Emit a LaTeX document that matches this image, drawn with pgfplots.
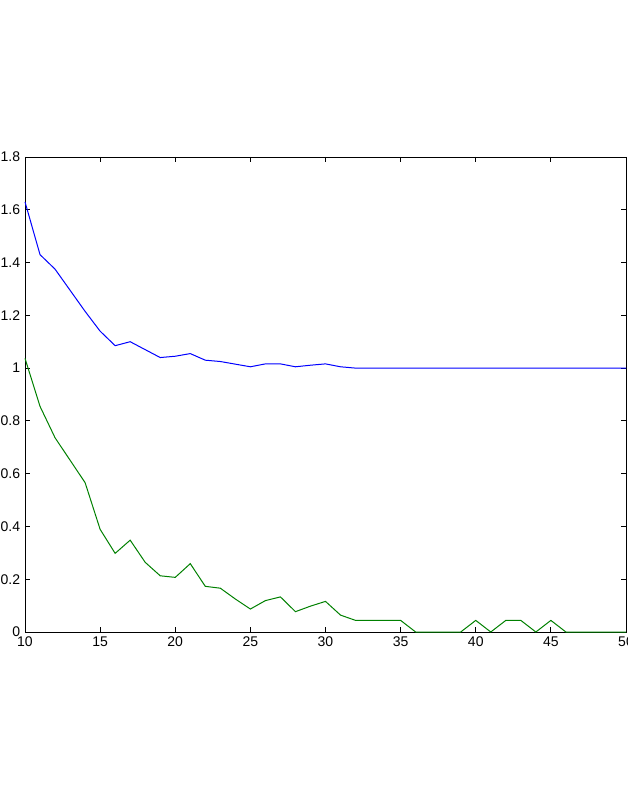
\documentclass[border=0pt]{standalone}
\usepackage{pgfplots}
\pgfplotsset{compat=1.18}
\usepackage{pgfplotstable}
\usepackage{fontspec}
\setmainfont{Liberation Sans}
\pgfplotstableread{
x blue green
10 1.630 1.037
11 1.430 0.855
12 1.375 0.736
13 1.295 0.651
14 1.215 0.566
15 1.140 0.389
16 1.085 0.298
17 1.100 0.348
18 1.070 0.264
19 1.040 0.213
20 1.045 0.207
21 1.055 0.259
22 1.030 0.173
23 1.025 0.166
24 1.015 0.125
25 1.005 0.087
26 1.016 0.119
27 1.016 0.133
28 1.005 0.077
29 1.011 0.098
30 1.016 0.116
31 1.005 0.064
32 1.000 0.044
33 1.000 0.044
34 1.000 0.044
35 1.000 0.044
36 1.000 0.000
37 1.000 0.000
38 1.000 0.000
39 1.000 0.000
40 1.000 0.044
41 1.000 0.000
42 1.000 0.044
43 1.000 0.044
44 1.000 0.000
45 1.000 0.044
46 1.000 0.000
47 1.000 0.000
48 1.000 0.000
49 1.000 0.000
50 1.000 0.000
}\datatable
\begin{document}
\fontsize{14pt}{16pt}\selectfont
\begin{tikzpicture}
\begin{axis}[
  at={(0,0)}, anchor=south west,
  scale only axis,
  width=601pt, height=475pt,
  xmin=10, xmax=50, ymin=0, ymax=1.8,
  xtick={10,15,...,50},
  ytick={0,0.2,0.4,0.6,0.8,1,1.2,1.4,1.6,1.8},
  tick align=inside,
  major tick length=5pt,
  axis line style={black, line width=0.9pt},
  tick style={black, line width=0.8pt},
  clip=false,
  /pgf/number format/assume math mode=true,
  tick label style={font=\fontsize{14pt}{16pt}\selectfont},
  yticklabel style={/pgf/number format/fixed, /pgf/number format/precision=1},
]
\addplot[color={rgb,255:red,0;green,0;blue,255}, line width=1pt] table[x=x,y=blue] {\datatable};
\addplot[color={rgb,255:red,0;green,128;blue,0}, line width=1pt] table[x=x,y=green] {\datatable};
\end{axis}
\pgfresetboundingbox
\path[use as bounding box] (-25pt,-179pt) rectangle (603pt,632pt);
\end{tikzpicture}
\end{document}
